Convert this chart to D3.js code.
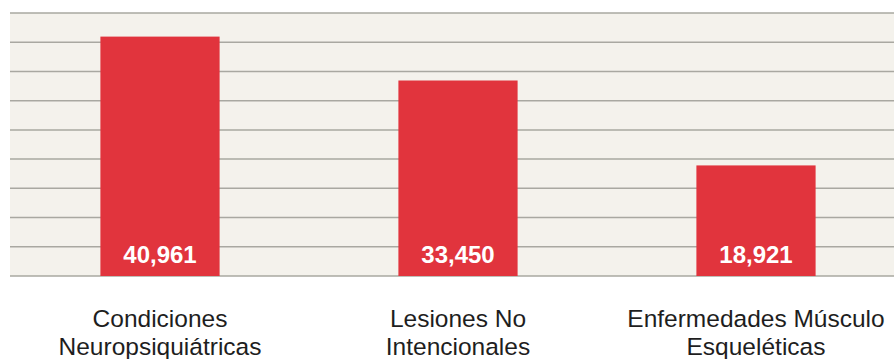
<!DOCTYPE html>
<html>
<head>
<meta charset="utf-8">
<script src="https://cdn.jsdelivr.net/npm/d3@7"></script>
<style>
  body { margin: 0; background: #ffffff; }
  svg { display: block; }
</style>
</head>
<body>
<svg class="chart" width="894" height="359"></svg>
<script>
var categories = [
    ["Condiciones", "Neuropsiquiátricas"],
    ["Lesiones No", "Intencionales"],
    ["Enfermedades Músculo", "Esqueléticas"]
];
var values = [40961, 33450, 18921];
var value_labels = ["40,961", "33,450", "18,921"];
var grid_ticks = [0, 5000, 10000, 15000, 20000, 25000, 30000, 35000, 40000, 45000];

var bar_color = '#e1343d';
var grid_color = '#a9a8a1';
var plot_bg = '#f4f2ec';

var svg = d3.select(".chart"),
    width = +svg.attr("width"),
    height = +svg.attr("height");

var x = d3.scaleBand()
    .domain(d3.range(values.length))
    .range([11, 905])
    .paddingInner(0.6)
    .paddingOuter(0.3);

var y = d3.scaleLinear()
    .domain([0, 45000])
    .range([276, 13]);

// plot background
svg.append("rect")
    .attr("x", 10)
    .attr("y", y(45000))
    .attr("width", width - 10)
    .attr("height", y(0) - y(45000))
    .attr("fill", plot_bg);

// gridlines
svg.append("g")
    .selectAll("line")
    .data(grid_ticks)
    .enter()
    .append("line")
    .attr("x1", 10)
    .attr("x2", width)
    .attr("y1", function(d) { return y(d); })
    .attr("y2", function(d) { return y(d); })
    .attr("stroke", grid_color)
    .attr("stroke-width", 1.5);

// bars
svg.append("g")
    .selectAll("rect")
    .data(values)
    .enter()
    .append("rect")
    .attr("x", function(d, i) { return x(i); })
    .attr("y", function(d) { return y(d); })
    .attr("width", x.bandwidth())
    .attr("height", function(d) { return y(0) - y(d); })
    .attr("fill", bar_color);

// value labels
svg.append("g")
    .selectAll("text")
    .data(value_labels)
    .enter()
    .append("text")
    .attr("x", function(d, i) { return x(i) + x.bandwidth() / 2; })
    .attr("y", 263)
    .attr("text-anchor", "middle")
    .attr("font-family", "'Liberation Sans', Arial, sans-serif")
    .attr("font-weight", "bold")
    .attr("font-size", 24)
    .attr("fill", "#ffffff")
    .text(function(d) { return d; });

// category labels
var cat = svg.append("g")
    .selectAll("text")
    .data(categories)
    .enter()
    .append("text")
    .attr("text-anchor", "middle")
    .attr("font-family", "'Liberation Sans', Arial, sans-serif")
    .attr("font-size", 24.5)
    .attr("fill", "#1e1e1e");

cat.selectAll("tspan")
    .data(function(d, i) { return d.map(function(t) { return {t: t, i: i}; }); })
    .enter()
    .append("tspan")
    .attr("x", function(d) { return x(d.i) + x.bandwidth() / 2; })
    .attr("y", function(d, j) { return 327 + j * 28; })
    .text(function(d) { return d.t; });
</script>
</body>
</html>
